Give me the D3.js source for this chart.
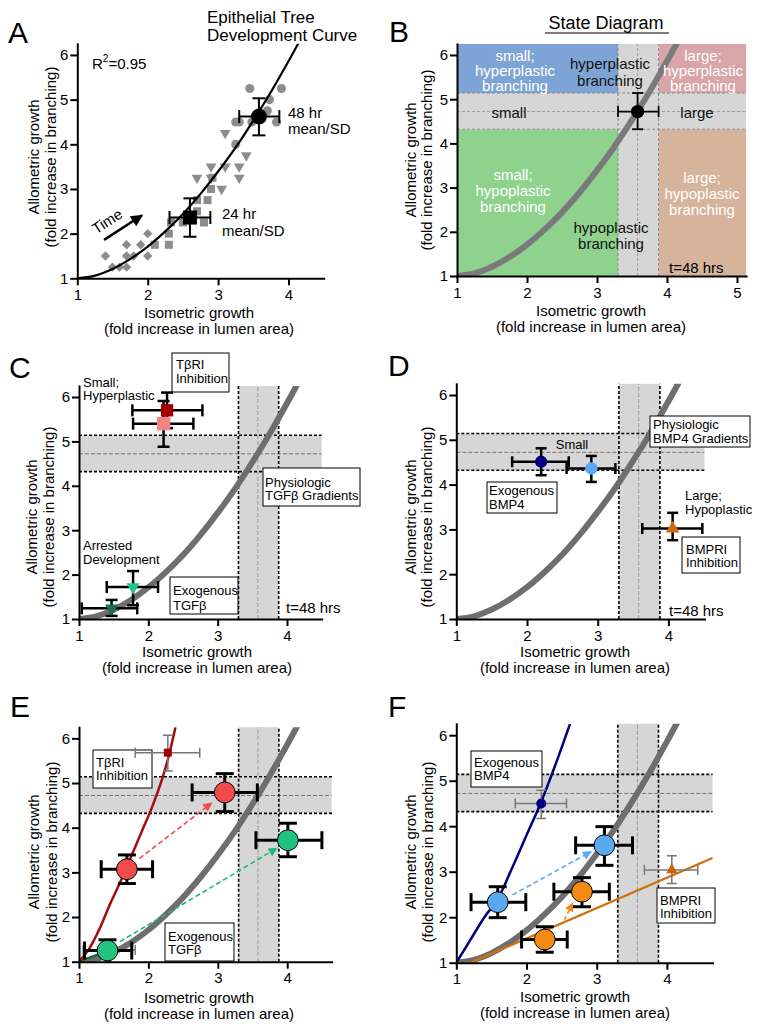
<!DOCTYPE html>
<html><head><meta charset="utf-8">
<script src="https://cdn.jsdelivr.net/npm/d3@7"></script>
<style>body{margin:0;background:#fff}</style>
</head><body><svg id="c" width="766" height="1032"></svg>
<script>
// ================= DATA =================
const yTicks = [1, 2, 3, 4, 5, 6];
const xTicks4 = [1, 2, 3, 4];
const xTicks5 = [1, 2, 3, 4, 5];

// epithelial tree development curve
const curveX = [1, 1.25, 1.5, 1.75, 2, 2.25, 2.5, 2.75, 3, 3.25, 3.5, 3.75, 4, 4.15];
const curveY = [1, 1.06, 1.21, 1.43, 1.71, 2.05, 2.44, 2.89, 3.39, 3.93, 4.53, 5.17, 5.86, 6.29];

// Panel A individual explants
const aDiamonds = [[1.4,1.5],[1.5,1.25],[1.6,1.25],[1.7,1.25],[1.7,1.5],[1.7,1.75],[1.8,1.5],[1.9,1.75],[2.0,2.0],[2.0,1.5]];
const aSquares = [[2.1,1.75],[2.3,1.75],[2.3,2.0],[2.33,2.25],[2.5,2.25],[2.7,2.5],[2.7,2.75],[2.8,2.25],[2.85,2.75],[2.9,3.0],[2.92,3.25]];
const aTriangles = [[2.7,3.25],[2.9,3.5],[2.9,3.25],[3.05,3.0],[3.1,3.5],[3.1,4.25],[3.3,3.5],[3.3,3.25],[3.4,3.75]];
const aCircles = [[3.25,4.0],[3.25,4.5],[3.3,4.5],[3.45,5.25],[3.48,4.5],[3.7,4.75],[3.73,5.0],[3.83,4.5],[3.9,5.25]];
const aMeans = [
  {name:"24 hr", x:2.6, y:2.36, xl:2.31, xh:2.89, yl:1.93, yh:2.79},
  {name:"48 hr", x:3.58, y:4.62, xl:3.3, xh:3.87, yl:4.2, yh:5.03}
];
const aTimeArrow = [[1.38,1.86],[1.92,2.41]];

// 48 hr state boundaries (mean - SD, mean, mean + SD)
const stateX = [3.3, 3.58, 3.88];
const stateY = [4.32, 4.72, 5.14];
const bMean = {x:3.58, y:4.72, xl:3.3, xh:3.88, yl:4.32, yh:5.14};

// Panel C (TGFβ)
const cTbriInhib = [
  {x:2.27, y:5.70, xl:1.77, xh:2.78, yl:5.30, yh:6.10},
  {x:2.22, y:5.40, xl:1.78, xh:2.65, yl:4.88, yh:5.91}
];
const cExoTgfb = [
  {x:1.78, y:1.72, xl:1.40, xh:2.14, yl:1.31, yh:2.08},
  {x:1.47, y:1.24, xl:1.04, xh:1.84, yl:1.07, yh:1.43}
];

// Panel D (BMP4)
const dExoBmp4 = [
  {x:2.20, y:4.51, xl:1.79, xh:2.59, yl:4.21, yh:4.81},
  {x:2.91, y:4.36, xl:2.56, xh:3.25, yl:4.06, yh:4.64}
];
const dBmpriInhib = [{x:4.06, y:3.02, xl:3.63, xh:4.48, yl:2.76, yh:3.37}];

// Panel E
const eRefSquare = [{x:2.28, y:5.68, xl:1.81, xh:2.74, yl:5.27, yh:6.07}];
const eRefGreen = [{x:1.45, y:1.26, xl:1.06, xh:1.81, yl:1.0, yh:1.3}];
const eRed = [
  {x:1.69, y:3.07, xl:1.32, xh:2.06, yl:2.75, yh:3.39},
  {x:3.10, y:4.79, xl:2.63, xh:3.57, yl:4.36, yh:5.21}
];
const eGreen = [
  {x:1.41, y:1.25, xl:1.08, xh:1.76, yl:1.0, yh:1.49},
  {x:4.01, y:3.72, xl:3.55, xh:4.50, yl:3.35, yh:4.10}
];
const eRedCurveX = [1, 1.15, 1.3, 1.45, 1.6, 1.75, 1.9, 2.05, 2.2, 2.3, 2.39];
const eRedCurveY = [1, 1.3, 1.75, 2.3, 2.8, 3.35, 3.9, 4.45, 5.1, 5.65, 6.25];
const eGreenCurveX = [1, 1.15, 1.35];
const eGreenCurveY = [1, 1.09, 1.2];
const eArrowRed = [[1.87,3.31],[2.91,4.55]];
const eArrowGreen = [[1.59,1.45],[3.85,3.54]];

// Panel F
const fRefNavy = [{x:2.21, y:4.50, xl:1.84, xh:2.57, yl:4.17, yh:4.79}];
const fRefOrange = [{x:4.07, y:3.04, xl:3.68, xh:4.44, yl:2.74, yh:3.35}];
const fBlue = [
  {x:1.59, y:2.33, xl:1.21, xh:1.99, yl:1.99, yh:2.67},
  {x:3.11, y:3.58, xl:2.70, xh:3.51, yl:3.14, yh:3.99}
];
const fOrange = [
  {x:2.26, y:1.51, xl:1.93, xh:2.58, yl:1.23, yh:1.79},
  {x:2.79, y:2.56, xl:2.39, xh:3.18, yl:2.23, yh:2.87}
];
const fNavyCurveX = [1, 1.2, 1.4, 1.59, 1.8, 2.0, 2.2, 2.4, 2.62];
const fNavyCurveY = [1, 1.5, 2.0, 2.4, 3.1, 3.8, 4.5, 5.3, 6.25];
const fOrangeLineX = [1.2, 4.65];
const fOrangeLineY = [1.0, 3.3];
const fArrowBlue = [[1.80,2.49],[2.92,3.44]];
const fArrowOrange = [[2.54,1.94],[2.66,2.31]];

// ================= LAYOUT =================
const FONT = '"Liberation Sans", Arial, Helvetica, sans-serif';
const L = {
  A:{ox:77.3, ux:70.4, xmax:4.5, oy:278.3, uy:44.67, xt:xTicks4, xl:[199,312,328], yl:[33,50,157], letter:[8,43]},
  B:{ox:457, ux:70, xmax:5.13, oy:276, uy:44.2, xt:xTicks5, xl:[591,310,326], yl:[410,426,160], letter:[389,42]},
  C:{ox:79, ux:69.33, xmax:4.5, oy:619, uy:44.4, xt:xTicks4, xl:[197,651,667], yl:[31,48,517], letter:[9,378]},
  D:{ox:456.3, ux:70.7, xmax:4.51, oy:619, uy:44.8, xt:xTicks4, xl:[575,651,667], yl:[410,426,517], letter:[388,376]},
  E:{ox:79, ux:69.4, xmax:4.64, oy:961.7, uy:44.67, xt:xTicks4, xl:[199,997,1013], yl:[33,51,852], letter:[10,717]},
  F:{ox:456.3, ux:70.2, xmax:4.65, oy:962.7, uy:45.5, xt:xTicks4, xl:[575,996,1012], yl:[410,427,852], letter:[388,717]}
};

const svg = d3.select("#c").attr("font-family", FONT);
const defs = svg.append("defs");
function arrowMarker(id, color, w, h){
  defs.append("marker").attr("id", id).attr("viewBox","0 0 10 10").attr("refX",9).attr("refY",5)
    .attr("markerWidth", w).attr("markerHeight", h).attr("markerUnits","userSpaceOnUse").attr("orient","auto")
    .append("path").attr("d","M0,0 L10,5 L0,10 Z").attr("fill", color);
}
arrowMarker("arBlack","#000",14,12);
arrowMarker("arRed","#f04a4a",10,9);
arrowMarker("arGreen","#1fb877",10,9);
arrowMarker("arBlue","#5aa8f0",10,9);
arrowMarker("arOrange","#f08a10",10,9);

function mk(p){
  const x = d3.scaleLinear().domain([1,p.xmax]).range([p.ox, p.ox+(p.xmax-1)*p.ux]);
  const y = d3.scaleLinear().domain([1,6.25]).range([p.oy, p.oy-5.25*p.uy]);
  return {x,y};
}
let clipN = 0;
function clip(s){
  const id = "clip"+(clipN++);
  defs.append("clipPath").attr("id",id).append("rect")
    .attr("x", s.x(1)).attr("y", s.y(6.25)).attr("width", s.x.range()[1]-s.x(1)+4).attr("height", s.y(1)-s.y(6.25));
  return "url(#"+id+")";
}
function txt(g, x, y, str, size, opts={}){
  const t = g.append("text").attr("x",x).attr("y",y).attr("font-size",size)
    .attr("dominant-baseline","central").attr("text-anchor",opts.anchor||"start").attr("fill",opts.fill||"#000").text(str);
  return t;
}
function drawAxes(g, s, p){
  const ax = g.append("g").attr("transform",`translate(0,${s.y(1)})`)
    .call(d3.axisBottom(s.x).tickValues(p.xt).tickFormat(d3.format("d")).tickSize(7).tickSizeOuter(0).tickPadding(4));
  const ay = g.append("g").attr("transform",`translate(${s.x(1)},0)`)
    .call(d3.axisLeft(s.y).tickValues(yTicks).tickFormat(d3.format("d")).tickSize(7).tickSizeOuter(0).tickPadding(2));
  [ax, ay].forEach(a => {
    a.attr("font-size",15).attr("font-family",FONT);
    a.selectAll("path,line").attr("stroke","#000").attr("stroke-width",2);
    a.select(".domain").attr("stroke-linecap","square");
    a.selectAll("text").attr("fill","#000");
  });
  txt(g, p.xl[0], p.xl[1], "Isometric growth", 15, {anchor:"middle"});
  txt(g, p.xl[0], p.xl[2], "(fold increase in lumen area)", 15, {anchor:"middle"});
  const gy = g.append("g");
  gy.append("text").attr("transform",`translate(${p.yl[0]},${p.yl[2]}) rotate(-90)`).attr("text-anchor","middle")
    .attr("dominant-baseline","central").attr("font-size",15).text("Allometric growth");
  gy.append("text").attr("transform",`translate(${p.yl[1]},${p.yl[2]}) rotate(-90)`).attr("text-anchor","middle")
    .attr("dominant-baseline","central").attr("font-size",15).text("(fold increase in branching)");
}
function letter(g, p, ch){
  g.append("text").attr("x",p.letter[0]).attr("y",p.letter[1]).attr("font-size",30).text(ch);
}
function line(g, s, xs, ys, color, width, clipUrl){
  const pts = xs.map((v,i)=>[v, ys[i]]);
  return g.append("path").datum(pts)
    .attr("d", d3.line().x(d=>s.x(d[0])).y(d=>s.y(d[1])).curve(d3.curveCatmullRom.alpha(0.5)))
    .attr("fill","none").attr("stroke",color).attr("stroke-width",width)
    .attr("clip-path", clipUrl||null);
}
function errBars(g, s, pts, color, width, cap){
  pts.forEach(d => {
    const e = g.append("g").attr("stroke",color).attr("stroke-width",width).attr("fill","none");
    e.append("line").attr("x1",s.x(d.xl)).attr("x2",s.x(d.xh)).attr("y1",s.y(d.y)).attr("y2",s.y(d.y));
    e.append("line").attr("x1",s.x(d.x)).attr("x2",s.x(d.x)).attr("y1",s.y(d.yl)).attr("y2",s.y(d.yh));
    [d.xl, d.xh].forEach(v => e.append("line").attr("x1",s.x(v)).attr("x2",s.x(v)).attr("y1",s.y(d.y)-cap).attr("y2",s.y(d.y)+cap));
    [d.yl, d.yh].forEach(v => { if (v > 1.0001) e.append("line").attr("x1",s.x(d.x)-cap).attr("x2",s.x(d.x)+cap).attr("y1",s.y(v)).attr("y2",s.y(v)); });
  });
}
function symbols(g, s, pts, type, size, fill, opts={}){
  g.selectAll(null).data(pts).enter().append("path")
    .attr("d", d3.symbol().type(type).size(size))
    .attr("transform", d => `translate(${s.x(d[0] !== undefined ? d[0] : d.x)},${s.y(d[1] !== undefined ? d[1] : d.y)}) rotate(${opts.rotate||0})`)
    .attr("fill", fill).attr("stroke", opts.stroke||"none").attr("stroke-width", opts.sw||0);
}
function box(g, x0, y0, x1, y1, lines, ys, tx){
  g.append("rect").attr("x",x0).attr("y",y0).attr("width",x1-x0).attr("height",y1-y0)
    .attr("fill","#fff").attr("stroke","#000").attr("stroke-width",1);
  lines.forEach((l,i)=> txt(g, tx, ys[i], l, 13));
}
function bands(g, s, opts={}){
  const xmax = s.x.domain()[1];
  const gray = "#d6d6d6";
  g.append("rect").attr("x",s.x(1)).attr("y",s.y(stateY[2])).attr("width",s.x(xmax)-s.x(1)).attr("height",s.y(stateY[0])-s.y(stateY[2])).attr("fill",gray);
  g.append("rect").attr("x",s.x(stateX[0])).attr("y",s.y(6.25)).attr("width",s.x(stateX[2])-s.x(stateX[0])).attr("height",s.y(1)-s.y(6.25)).attr("fill",gray);
  g.append("line").attr("x1",s.x(1)).attr("x2",s.x(xmax)).attr("y1",s.y(stateY[1])).attr("y2",s.y(stateY[1]))
    .attr("stroke","#777").attr("stroke-width",1).attr("stroke-dasharray","4,2");
  g.append("line").attr("x1",s.x(stateX[1])).attr("x2",s.x(stateX[1])).attr("y1",s.y(1)).attr("y2",s.y(6.25))
    .attr("stroke","#999").attr("stroke-width",1).attr("stroke-dasharray","4,2");
  [stateY[0], stateY[2]].forEach(v => g.append("line").attr("x1",s.x(1)).attr("x2",s.x(xmax)+(opts.ext||0)).attr("y1",s.y(v)).attr("y2",s.y(v))
    .attr("stroke","#000").attr("stroke-width",1.6).attr("stroke-dasharray","3,2"));
  [stateX[0], stateX[2]].forEach(v => g.append("line").attr("x1",s.x(v)).attr("x2",s.x(v)).attr("y1",s.y(1)).attr("y2",s.y(6.25))
    .attr("stroke","#000").attr("stroke-width",1.6).attr("stroke-dasharray","3,2"));
}
function arrow(g, s, seg, color, marker, width, dash){
  g.append("line").attr("x1",s.x(seg[0][0])).attr("y1",s.y(seg[0][1])).attr("x2",s.x(seg[1][0])).attr("y2",s.y(seg[1][1]))
    .attr("stroke",color).attr("stroke-width",width).attr("stroke-dasharray",dash||null).attr("marker-end",`url(#${marker})`);
}

// ================= PANEL A =================
(function(){
  const p = L.A, s = mk(p), g = svg.append("g");
  letter(g, p, "A");
  txt(g, 207, 17, "Epithelial Tree", 17);
  txt(g, 207, 35, "Development Curve", 17);
  const r = g.append("text").attr("x",92).attr("y",63).attr("font-size",15).attr("dominant-baseline","central");
  r.append("tspan").text("R");
  r.append("tspan").attr("font-size",10).attr("dy",-5).text("2");
  r.append("tspan").attr("dy",5).text("=0.95");
  const gray = "#8c8c8c";
  symbols(g, s, aDiamonds, d3.symbolSquare, 44, gray, {rotate:45});
  symbols(g, s, aSquares, d3.symbolSquare, 64, gray);
  symbols(g, s, aTriangles, d3.symbolTriangle, 50, gray, {rotate:180});
  symbols(g, s, aCircles, d3.symbolCircle, 64, gray);
  line(g, s, curveX, curveY, "#000", 2.2, clip(s));
  errBars(g, s, aMeans, "#000", 2, 6.5);
  symbols(g, s, [aMeans[0]], d3.symbolSquare, 196, "#000");
  symbols(g, s, [aMeans[1]], d3.symbolCircle, 200, "#000");
  txt(g, 288, 112, "48 hr", 15); txt(g, 288, 128, "mean/SD", 15);
  txt(g, 222, 213, "24 hr", 15); txt(g, 222, 230, "mean/SD", 15);
  arrow(g, s, aTimeArrow, "#000", "arBlack", 2.5);
  g.append("text").attr("transform","translate(107,221) rotate(-33)").attr("font-size",15)
    .attr("text-anchor","middle").attr("dominant-baseline","central").text("Time");
  drawAxes(g, s, p);
})();

// ================= PANEL B =================
(function(){
  const p = L.B, s = mk(p), g = svg.append("g");
  letter(g, p, "B");
  txt(g, 606, 23, "State Diagram", 18, {anchor:"middle"});
  g.append("line").attr("x1",545).attr("x2",669).attr("y1",33).attr("y2",33).attr("stroke","#000").attr("stroke-width",1.2);
  const xm = p.xmax;
  const regions = [
    [1, stateX[0], stateY[2], 6.25, "#7ea4d6"],
    [stateX[2], xm, stateY[2], 6.25, "#d8a5a9"],
    [1, stateX[0], 1, stateY[0], "#8ed28e"],
    [stateX[2], xm, 1, stateY[0], "#d6b49c"],
    [stateX[0], stateX[2], 1, 6.25, "#d6d6d6"],
    [1, xm, stateY[0], stateY[2], "#d6d6d6"]
  ];
  regions.forEach(r => g.append("rect").attr("x",s.x(r[0])).attr("y",s.y(r[3])).attr("width",s.x(r[1])-s.x(r[0])).attr("height",s.y(r[2])-s.y(r[3])).attr("fill",r[4]));
  stateY.forEach((v,i) => g.append("line").attr("x1",s.x(1)).attr("x2",s.x(xm)).attr("y1",s.y(v)).attr("y2",s.y(v))
    .attr("stroke", i===1 ? "#9a9a9a" : "#888").attr("stroke-width",1).attr("stroke-dasharray","3,2"));
  stateX.forEach((v,i) => g.append("line").attr("x1",s.x(v)).attr("x2",s.x(v)).attr("y1",s.y(1)).attr("y2",s.y(6.25))
    .attr("stroke", i===1 ? "#9a9a9a" : "#888").attr("stroke-width",1).attr("stroke-dasharray","3,2"));
  line(g, s, curveX, curveY, "#7a7a7a", 6, clip(s));
  const W = {fill:"#fff", anchor:"middle"}, K = {anchor:"middle", fill:"#111"};
  ["small;","hyperplastic","branching"].forEach((t,i)=>txt(g,515,55+15*i,t,15,W));
  ["large;","hyperplastic","branching"].forEach((t,i)=>txt(g,703,55+15*i,t,15,W));
  ["small;","hypoplastic","branching"].forEach((t,i)=>txt(g,513,174+16*i,t,15,W));
  ["large;","hypoplastic","branching"].forEach((t,i)=>txt(g,702,177+16*i,t,15,W));
  ["hyperplastic","branching"].forEach((t,i)=>txt(g,610,63+17*i,t,15,K));
  ["hypoplastic","branching"].forEach((t,i)=>txt(g,611,227+16*i,t,15,K));
  txt(g,509,112,"small",15,K); txt(g,697,112,"large",15,K);
  txt(g,669,267,"t=48 hrs",15);
  errBars(g, s, [bMean], "#000", 1.8, 5.5);
  symbols(g, s, [bMean], d3.symbolCircle, 140, "#000");
  drawAxes(g, s, p);
})();

// ================= PANEL C =================
(function(){
  const p = L.C, s = mk(p), g = svg.append("g");
  letter(g, p, "C");
  bands(g, s);
  line(g, s, curveX, curveY, "#6e6e6e", 6, clip(s));
  txt(g, 83, 382, "Small;", 13); txt(g, 83, 395, "Hyperplastic", 13);
  txt(g, 83, 545, "Arrested", 13); txt(g, 83, 559, "Development", 13);
  txt(g, 286, 607, "t=48 hrs", 15);
  box(g, 172, 353, 229, 392, ["TβRI","Inhibition"], [364,378], 176);
  box(g, 263, 468, 360, 506, ["Physiologic","TGFβ Gradients"], [482,495], 265);
  box(g, 170, 577, 238, 614, ["Exogenous","TGFβ"], [590,605], 173);
  errBars(g, s, cTbriInhib, "#000", 2.5, 6);
  errBars(g, s, cExoTgfb, "#000", 2.5, 6);
  symbols(g, s, [cTbriInhib[0]], d3.symbolSquare, 150, "#a00000");
  symbols(g, s, [cTbriInhib[1]], d3.symbolSquare, 180, "#f48383");
  symbols(g, s, [cExoTgfb[0]], d3.symbolTriangle, 75, "#1ec88b", {rotate:180});
  symbols(g, s, [cExoTgfb[1]], d3.symbolTriangle, 75, "#14704e", {rotate:180});
  drawAxes(g, s, p);
})();

// ================= PANEL D =================
(function(){
  const p = L.D, s = mk(p), g = svg.append("g");
  letter(g, p, "D");
  bands(g, s);
  line(g, s, curveX, curveY, "#6e6e6e", 6, clip(s));
  txt(g, 572, 444, "Small", 13, {anchor:"middle"});
  txt(g, 685, 495, "Large;", 13); txt(g, 685, 509, "Hypoplastic", 13);
  txt(g, 669, 610, "t=48 hrs", 15);
  box(g, 650, 416, 750, 447, ["Physiologic","BMP4 Gradients"], [424,438], 653);
  box(g, 487, 482, 557, 513, ["Exogenous","BMP4"], [490,504], 489);
  box(g, 682, 537, 740, 573, ["BMPRI","Inhibition"], [549,562], 686);
  errBars(g, s, dExoBmp4, "#000", 2.5, 5.5);
  errBars(g, s, dBmpriInhib, "#000", 2.5, 5.5);
  symbols(g, s, [dExoBmp4[0]], d3.symbolCircle, 120, "#00007e");
  symbols(g, s, [dExoBmp4[1]], d3.symbolCircle, 120, "#58a9f2");
  symbols(g, s, [dBmpriInhib[0]], d3.symbolTriangle, 80, "#cf6a0f");
  drawAxes(g, s, p);
})();

// ================= PANEL E =================
(function(){
  const p = L.E, s = mk(p), g = svg.append("g");
  letter(g, p, "E");
  bands(g, s, {ext:2});
  const cl = clip(s);
  line(g, s, curveX, curveY, "#6e6e6e", 6, cl);
  box(g, 93, 750, 152, 788, ["TβRI","Inhibition"], [762,775], 96);
  box(g, 165, 923, 234, 961, ["Exogenous","TGFβ"], [936,949], 168);
  line(g, s, eGreenCurveX, eGreenCurveY, "#1a6b3a", 2.5, cl);
  line(g, s, eRedCurveX, eRedCurveY, "#a30d0d", 2.5, cl);
  errBars(g, s, eRefSquare, "#777", 1.5, 5);
  errBars(g, s, eRefGreen, "#777", 1.5, 5);
  symbols(g, s, eRefSquare, d3.symbolSquare, 64, "#a00000");
  arrow(g, s, eArrowRed, "#f04a4a", "arRed", 1.6, "5,3");
  arrow(g, s, eArrowGreen, "#1fb877", "arGreen", 1.6, "5,3");
  errBars(g, s, eRed, "#000", 3, 9);
  errBars(g, s, eGreen, "#000", 3, 9);
  symbols(g, s, eRed, d3.symbolCircle, 340, "#f04a4a", {stroke:"#000", sw:1});
  symbols(g, s, eGreen, d3.symbolCircle, 340, "#22c27f", {stroke:"#000", sw:1});
  drawAxes(g, s, p);
})();

// ================= PANEL F =================
(function(){
  const p = L.F, s = mk(p), g = svg.append("g");
  letter(g, p, "F");
  bands(g, s);
  const cl = clip(s);
  line(g, s, curveX, curveY, "#6e6e6e", 6, cl);
  box(g, 471, 751, 542, 787, ["Exogenous","BMP4"], [762,775], 474);
  box(g, 657, 888, 715, 923, ["BMPRI","Inhibition"], [900,913], 660);
  line(g, s, fNavyCurveX, fNavyCurveY, "#00007e", 2.5, cl);
  line(g, s, fOrangeLineX, fOrangeLineY, "#d0700f", 2.2, cl);
  errBars(g, s, fRefNavy, "#777", 1.5, 5);
  errBars(g, s, fRefOrange, "#777", 1.5, 5);
  symbols(g, s, fRefNavy, d3.symbolCircle, 80, "#00007e");
  symbols(g, s, fRefOrange, d3.symbolTriangle, 55, "#c8650f");
  arrow(g, s, fArrowBlue, "#5aa8f0", "arBlue", 1.6, "5,3");
  arrow(g, s, fArrowOrange, "#f08a10", "arOrange", 1.6, "4,3");
  errBars(g, s, fBlue, "#000", 3, 9);
  errBars(g, s, fOrange, "#000", 3, 9);
  symbols(g, s, fBlue, d3.symbolCircle, 340, "#5aa8f0", {stroke:"#000", sw:1});
  symbols(g, s, fOrange, d3.symbolCircle, 340, "#f58a12", {stroke:"#000", sw:1});
  drawAxes(g, s, p);
})();
</script></body></html>
